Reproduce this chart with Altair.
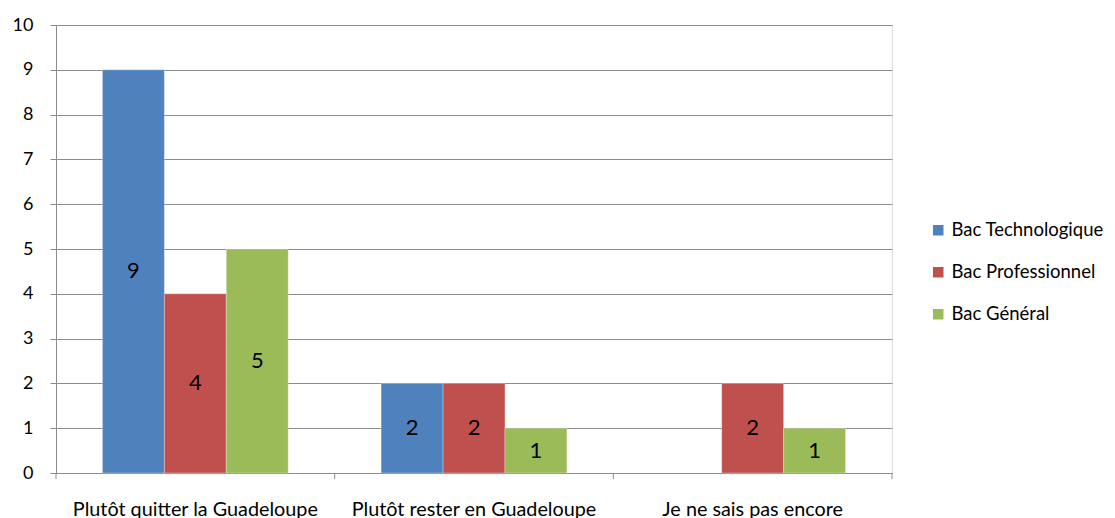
import altair as alt
import pandas as pd

categories = ["Plutôt quitter la Guadeloupe", "Plutôt rester en Guadeloupe", "Je ne sais pas encore"]
series = ["Bac Technologique", "Bac Professionnel", "Bac Général"]
bac_techno = [9, 2, None]
bac_pro = [4, 2, 2]
bac_gen = [5, 1, 1]
colors = ["#4F81BD", "#C0504D", "#9BBB59"]

rows = []
for s, vals in zip(series, [bac_techno, bac_pro, bac_gen]):
    for c, v in zip(categories, vals):
        if v is not None:
            rows.append({"cat": c, "serie": s, "val": v})
df = pd.DataFrame(rows)
ticks_df = pd.DataFrame({"cat": categories})

FONT = "Lato"
GRID = "#8C8C8C"

x_enc = alt.X("cat:N", sort=categories, title=None,
              scale=alt.Scale(paddingInner=0, paddingOuter=0),
              axis=alt.Axis(labelAngle=0, ticks=False, domain=True, domainColor=GRID,
                            labelFontSize=19.8, labelFont=FONT, labelColor="#000000",
                            labelPadding=26, grid=False, labelLimit=0))
xoff = alt.XOffset("serie:N", sort=series, scale=alt.Scale(paddingInner=0, paddingOuter=0.75))

bars = alt.Chart(df).mark_bar(stroke="#FFFFFF", strokeOpacity=0.3, strokeWidth=1).encode(
    x=x_enc,
    xOffset=xoff,
    y=alt.Y("val:Q", title=None,
            scale=alt.Scale(domain=[0, 10], nice=False),
            axis=alt.Axis(values=list(range(0, 11)), grid=True, gridColor=GRID,
                          domainColor=GRID, tickColor=GRID, tickSize=6,
                          labelFontSize=18, labelFont=FONT, labelColor="#000000",
                          labelPadding=17)),
    color=alt.Color("serie:N", sort=series, title=None,
                    scale=alt.Scale(domain=series, range=colors),
                    legend=alt.Legend(orient="none", legendX=873, legendY=196,
                                      symbolType="square", symbolSize=110,
                                      symbolStrokeWidth=0, labelFontSize=18.5,
                                      labelFont=FONT, labelColor="#000000",
                                      rowPadding=23, labelOffset=4, labelLimit=0)),
)

labels = alt.Chart(df).transform_calculate(mid="datum.val / 2").mark_text(
    fontSize=22, font=FONT, color="#000000", baseline="middle").encode(
    x=alt.X("cat:N", sort=categories),
    xOffset=xoff,
    y=alt.Y("mid:Q"),
    text=alt.Text("val:Q"),
)

ticks = alt.Chart(ticks_df).mark_rule(color=GRID).encode(
    x=alt.X("cat:N", sort=categories, bandPosition=0),
    y=alt.value(448), y2=alt.value(454),
)
last_tick = alt.Chart(ticks_df.head(1)).mark_rule(color=GRID).encode(
    x=alt.value(836), y=alt.value(448), y2=alt.value(454),
)

chart = alt.layer(bars, labels, ticks, last_tick).properties(
    width=836, height=448,
    autosize=alt.AutoSizeParams(type="none"),
    padding={"left": 48, "top": 17, "right": 215, "bottom": 45},
).configure_view(stroke=None).configure(background="#FFFFFF")

chart.save("out.html", embed_options={"renderer": "svg", "actions": False})
